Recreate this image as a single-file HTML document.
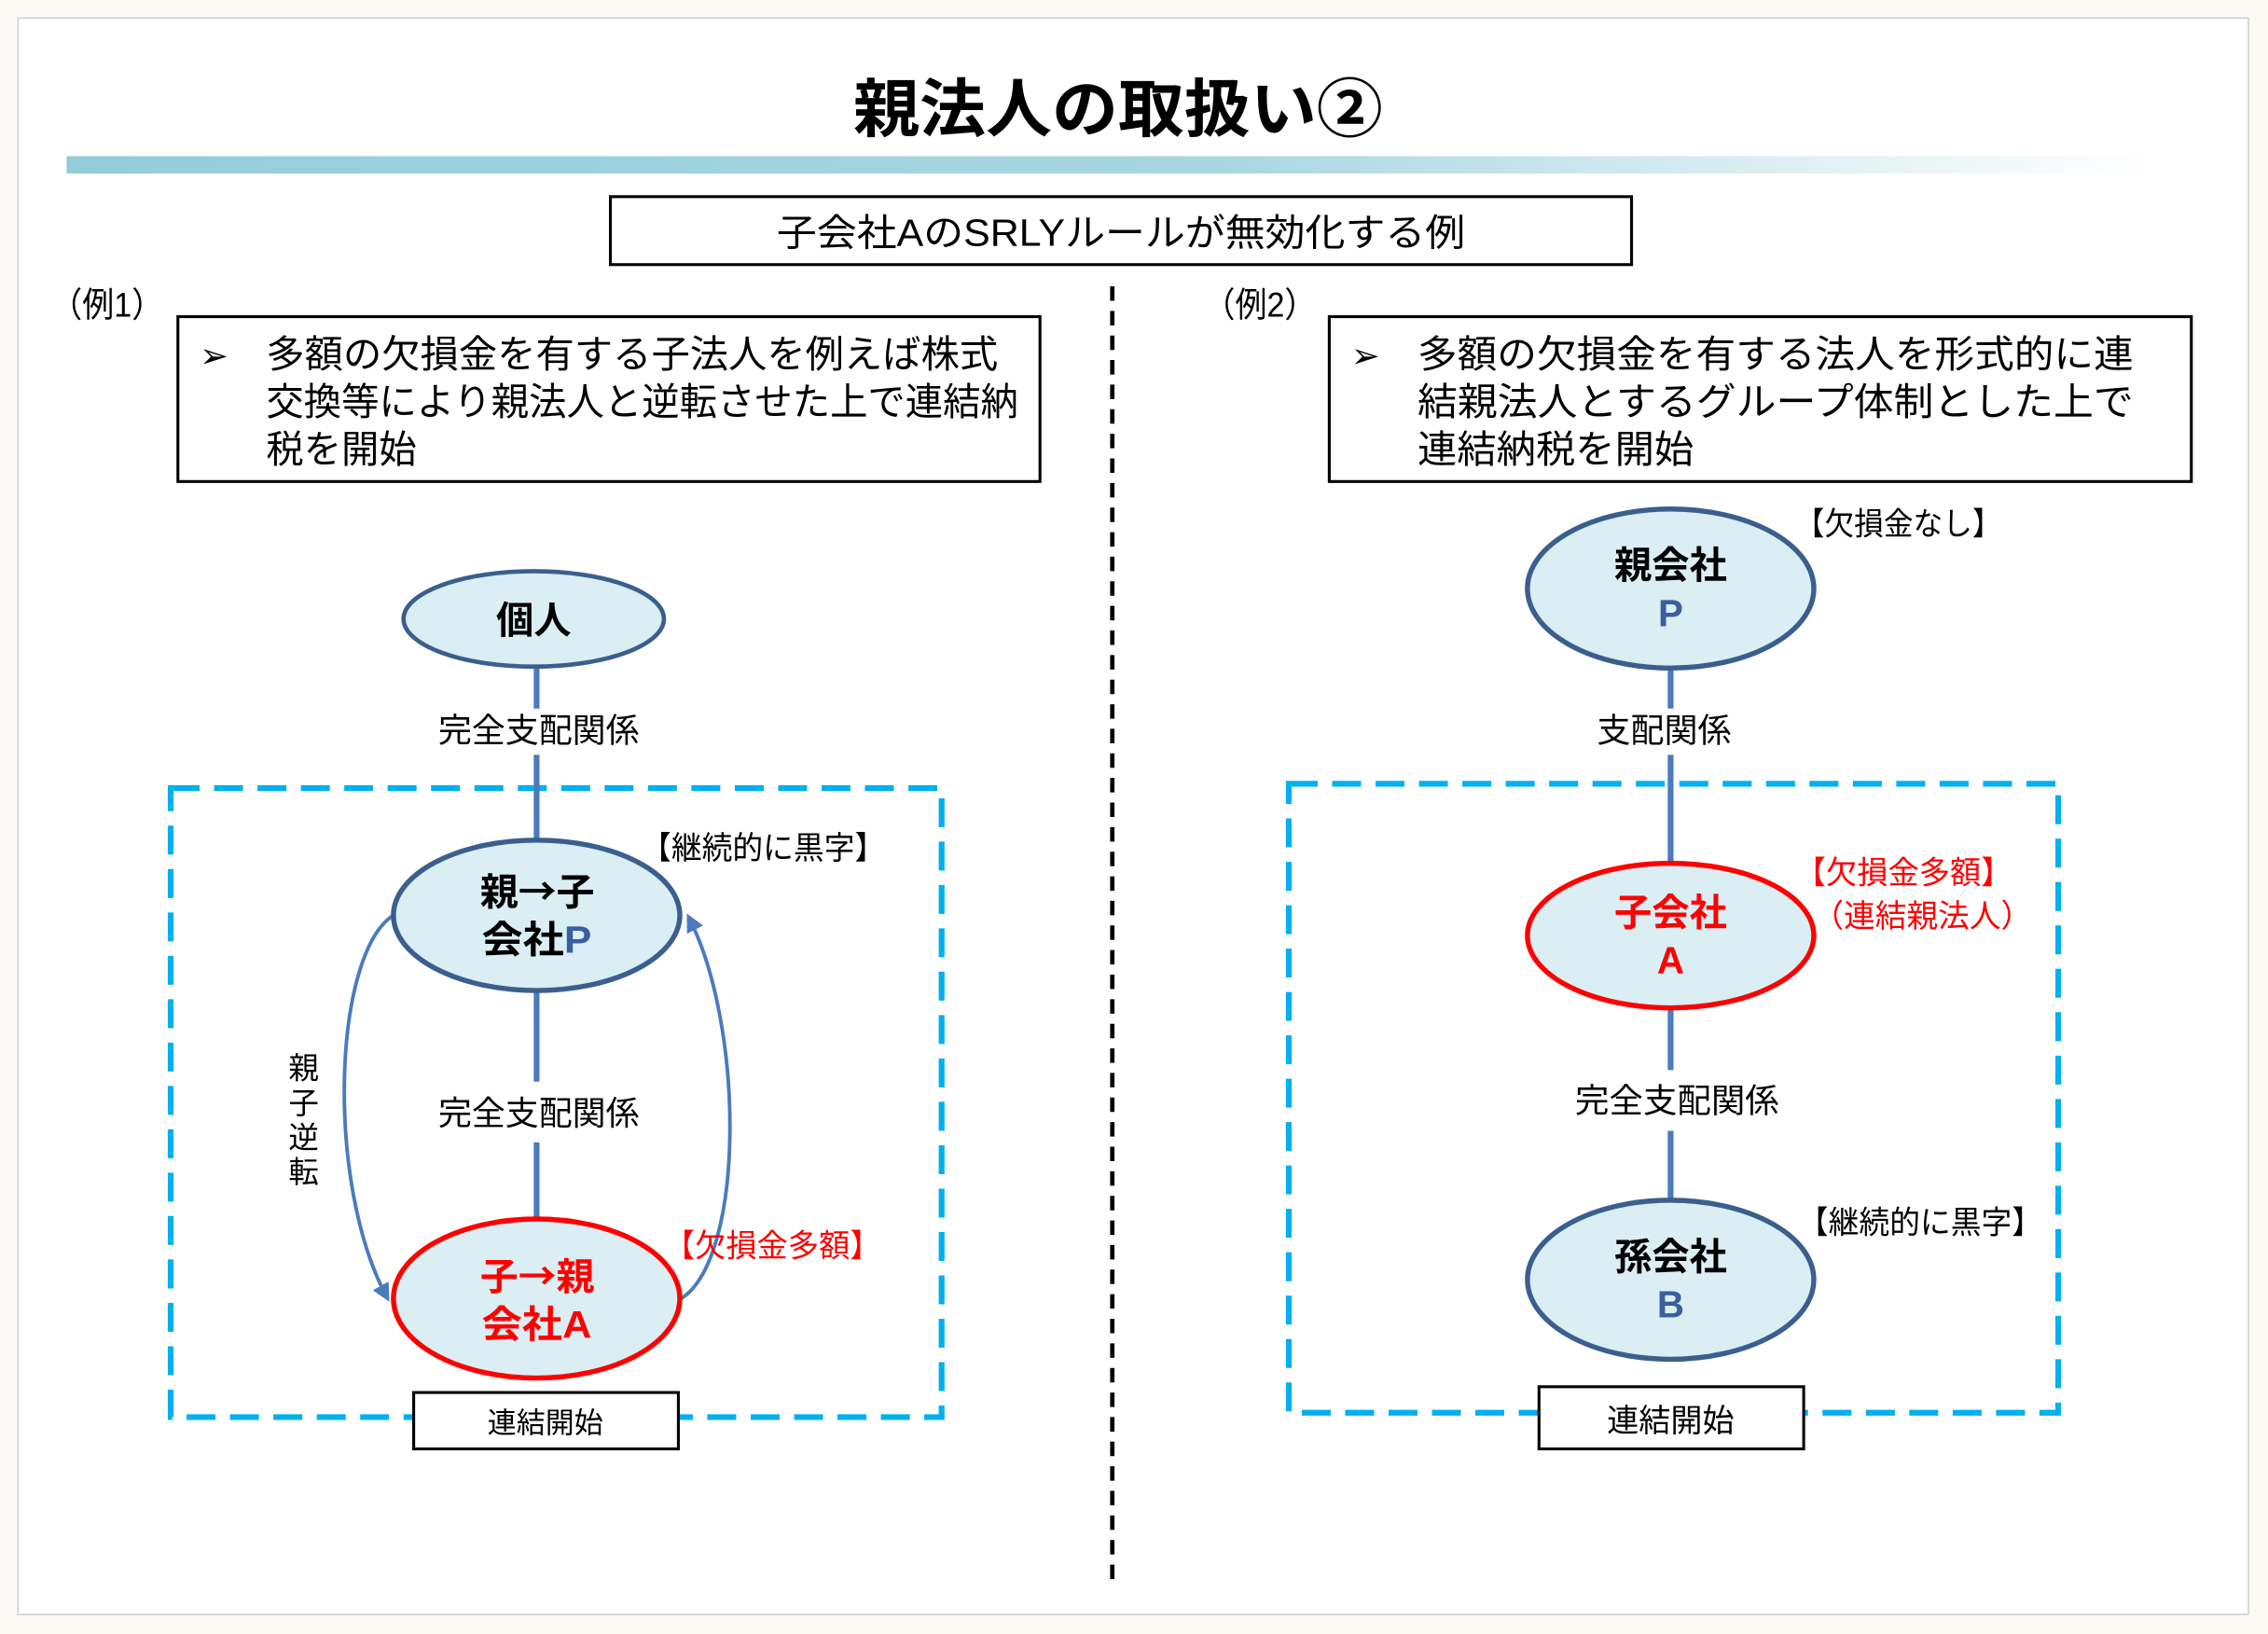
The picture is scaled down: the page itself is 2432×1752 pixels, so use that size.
<!DOCTYPE html>
<html><head><meta charset="utf-8"><style>
html,body{margin:0;padding:0;background:#fbfaf4;}
svg{display:block;}
text{font-family:"Liberation Sans","Noto Sans CJK JP",sans-serif;}
.cj{font-family:"Noto Sans CJK JP",sans-serif;}
</style></head><body>
<svg width="2432" height="1752" viewBox="0 0 1568 1130" preserveAspectRatio="none" xmlns="http://www.w3.org/2000/svg">
<defs>
<linearGradient id="g" x1="0" x2="1"><stop offset="0" stop-color="#94ccdc"/><stop offset="0.55" stop-color="#a8d6e2"/><stop offset="1" stop-color="#ffffff"/></linearGradient>
<marker id="ar" viewBox="0 0 10 10" refX="8" refY="5" markerWidth="5" markerHeight="5" orient="auto"><path d="M0,0 L10,5 L0,10 z" fill="#4a7bbd"/></marker>
</defs>
<rect x="0" y="0" width="1568" height="1130" fill="#fbfaf4"/>
<rect x="12.5" y="12.5" width="1542" height="1104" fill="#fff" stroke="#cfcfcf" stroke-width="1"/>
<text x="590" y="91" font-size="44" font-weight="bold" textLength="366" lengthAdjust="spacingAndGlyphs">親法人の取扱い②</text>
<rect x="46" y="108" width="1440" height="12" fill="url(#g)"/>
<rect x="422" y="136" width="706" height="47" fill="#fff" stroke="#000" stroke-width="2"/>
<text x="537" y="170" font-size="26" textLength="476" lengthAdjust="spacingAndGlyphs">子会社AのSRLYルールが無効化する例</text>
<text x="35" y="219" font-size="24" textLength="78" lengthAdjust="spacingAndGlyphs">（例1）</text>
<text x="832" y="219" font-size="24" textLength="78" lengthAdjust="spacingAndGlyphs">（例2）</text>
<rect x="123" y="219" width="596" height="114" fill="#fff" stroke="#000" stroke-width="2"/>
<text x="138" y="254" font-size="24">➢</text>
<g font-size="26.5"><text x="184" y="254" textLength="506" lengthAdjust="spacingAndGlyphs">多額の欠損金を有する子法人を例えば株式</text><text x="184" y="287" textLength="520" lengthAdjust="spacingAndGlyphs">交換等により親法人と逆転させた上で連結納</text><text x="184" y="320" textLength="104" lengthAdjust="spacingAndGlyphs">税を開始</text></g>
<rect x="919" y="219" width="596" height="114" fill="#fff" stroke="#000" stroke-width="2"/>
<text x="934" y="254" font-size="24">➢</text>
<g font-size="26.5"><text x="980" y="254" textLength="495" lengthAdjust="spacingAndGlyphs">多額の欠損金を有する法人を形式的に連</text><text x="980" y="287" textLength="495" lengthAdjust="spacingAndGlyphs">結親法人とするグループ体制とした上で</text><text x="980" y="320" textLength="191" lengthAdjust="spacingAndGlyphs">連結納税を開始</text></g>
<line x1="769" y1="198" x2="769" y2="1092" stroke="#000" stroke-width="3" stroke-dasharray="10 7"/>
<!-- left -->
<rect x="118" y="545" width="533" height="435" fill="none" stroke="#00b0f0" stroke-width="4" stroke-dasharray="20 10"/>
<line x1="371" y1="461" x2="371" y2="845" stroke="#4a7bbd" stroke-width="4"/>
<rect x="295" y="490" width="152" height="32" fill="#fff"/>
<text x="303" y="513" font-size="23" textLength="139" lengthAdjust="spacingAndGlyphs">完全支配関係</text>
<rect x="295" y="748" width="152" height="42" fill="#fff"/>
<text x="303" y="778" font-size="23" textLength="139" lengthAdjust="spacingAndGlyphs">完全支配関係</text>
<path d="M272,633 C230,660 225,820 268,898" fill="none" stroke="#4a7bbd" stroke-width="2.5" marker-end="url(#ar)"/>
<path d="M471,898 C515,870 515,710 476,634" fill="none" stroke="#4a7bbd" stroke-width="2.5" marker-end="url(#ar)"/>
<ellipse cx="369" cy="428" rx="90" ry="33" fill="#daeef3" stroke="#3a5f8f" stroke-width="3"/>
<text x="369" y="438" font-size="26" font-weight="bold" text-anchor="middle">個人</text>
<ellipse cx="371" cy="633" rx="99" ry="52" fill="#daeef3" stroke="#3a5f8f" stroke-width="3.5"/>
<text x="332" y="626" font-size="26" font-weight="bold" textLength="79" lengthAdjust="spacingAndGlyphs">親<tspan class="cj">→</tspan>子</text>
<text x="333" y="659" font-size="26" font-weight="bold" textLength="76" lengthAdjust="spacingAndGlyphs">会社<tspan fill="#3a5f9f">P</tspan></text>
<ellipse cx="371" cy="898" rx="99" ry="55" fill="#daeef3" stroke="#ff0000" stroke-width="3.5"/>
<text x="332" y="892" font-size="26" font-weight="bold" fill="#ff0000" textLength="79" lengthAdjust="spacingAndGlyphs">子<tspan class="cj">→</tspan>親</text>
<text x="333" y="925" font-size="26" font-weight="bold" fill="#ff0000" textLength="76" lengthAdjust="spacingAndGlyphs">会社A</text>
<text x="443" y="594" font-size="22" textLength="169" lengthAdjust="spacingAndGlyphs">【継続的に黒字】</text>
<text x="459" y="869" font-size="22" fill="#ff0000" textLength="150" lengthAdjust="spacingAndGlyphs">【欠損金多額】</text>
<g font-size="21" text-anchor="middle"><text x="210" y="746">親</text><text x="210" y="770">子</text><text x="210" y="794">逆</text><text x="210" y="818">転</text></g>
<rect x="286" y="963" width="183" height="39" fill="#fff" stroke="#000" stroke-width="2"/>
<text x="377" y="991" font-size="20" text-anchor="middle">連結開始</text>
<!-- right -->
<rect x="891" y="542" width="532" height="435" fill="none" stroke="#00b0f0" stroke-width="4" stroke-dasharray="20 10"/>
<line x1="1155" y1="460" x2="1155" y2="832" stroke="#4a7bbd" stroke-width="4"/>
<rect x="1095" y="490" width="120" height="32" fill="#fff"/>
<text x="1104" y="513" font-size="23" textLength="93" lengthAdjust="spacingAndGlyphs">支配関係</text>
<rect x="1080" y="740" width="160" height="42" fill="#fff"/>
<text x="1089" y="769" font-size="23" textLength="141" lengthAdjust="spacingAndGlyphs">完全支配関係</text>
<ellipse cx="1155" cy="407" rx="99" ry="55" fill="#daeef3" stroke="#3a5f8f" stroke-width="3.5"/>
<text x="1155" y="400" font-size="26" font-weight="bold" text-anchor="middle">親会社</text>
<text x="1155" y="433" font-size="26" font-weight="bold" fill="#3a5f9f" text-anchor="middle">P</text>
<ellipse cx="1155" cy="647" rx="99" ry="50" fill="#daeef3" stroke="#ff0000" stroke-width="3.5"/>
<text x="1155" y="640" font-size="26" font-weight="bold" fill="#ff0000" text-anchor="middle">子会社</text>
<text x="1155" y="673" font-size="26" font-weight="bold" fill="#ff0000" text-anchor="middle">A</text>
<ellipse cx="1155" cy="885" rx="99" ry="55" fill="#daeef3" stroke="#3a5f8f" stroke-width="3.5"/>
<text x="1155" y="878" font-size="26" font-weight="bold" text-anchor="middle">孫会社</text>
<text x="1155" y="911" font-size="26" font-weight="bold" fill="#3a5f9f" text-anchor="middle">B</text>
<text x="1241" y="370" font-size="22" textLength="143" lengthAdjust="spacingAndGlyphs">【欠損金なし】</text>
<text x="1241" y="611" font-size="22" fill="#ff0000" textLength="150" lengthAdjust="spacingAndGlyphs">【欠損金多額】</text>
<text x="1253" y="641" font-size="22" fill="#ff0000" textLength="152" lengthAdjust="spacingAndGlyphs">（連結親法人）</text>
<text x="1243" y="853" font-size="22" textLength="169" lengthAdjust="spacingAndGlyphs">【継続的に黒字】</text>
<rect x="1064" y="959" width="183" height="43" fill="#fff" stroke="#000" stroke-width="2"/>
<text x="1155" y="990" font-size="22" text-anchor="middle">連結開始</text>
</svg>
</body></html>
